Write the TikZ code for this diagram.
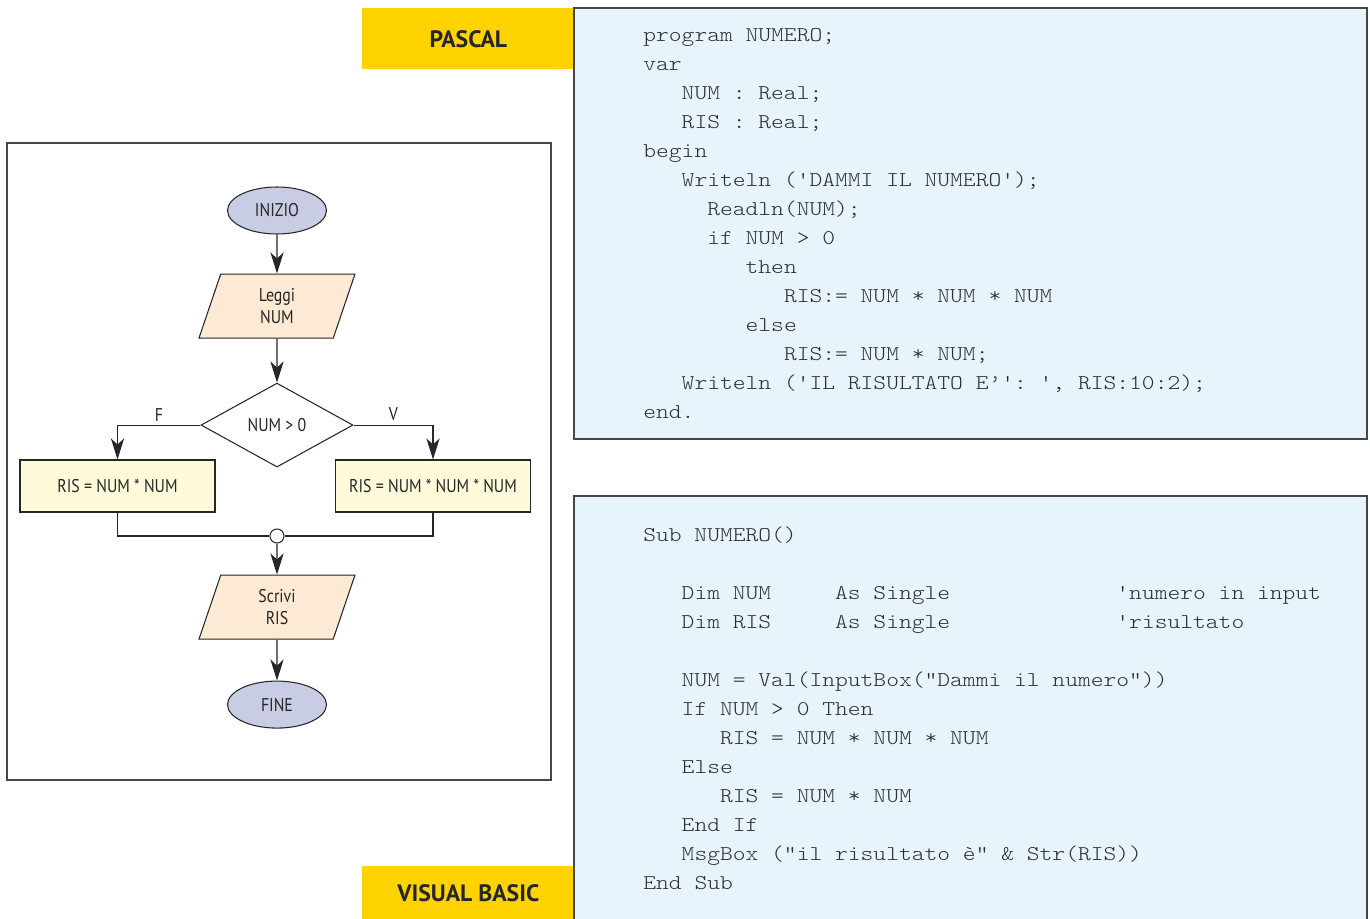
\documentclass[tikz,border=0pt]{standalone}
\usepackage{fontspec}
\setmainfont{PT Sans}[FakeStretch=0.86]
\setmonofont{lmmonolt10-regular.otf}[FakeStretch=1.16]
\newfontfamily\tabfont{PT Sans}
\usetikzlibrary{shapes.geometric, arrows.meta, positioning}
\definecolor{termcol}{RGB}{200,205,228}
\definecolor{iocol}{RGB}{253,234,212}
\definecolor{proccol}{RGB}{255,251,218}
\definecolor{codebg}{RGB}{232,244,252}
\definecolor{tabcol}{RGB}{255,211,0}
\definecolor{framecol}{RGB}{70,70,70}
\definecolor{codetext}{RGB}{45,45,45}
\newcommand{\tb}[1]{\hspace*{#1\fontdimen2\font}}

\tikzset{
	flow/.style={draw=black!85, line width=0.6pt, text=black!85, font=\fontsize{10.5}{13}\selectfont},
	terminal/.style={flow, ellipse, fill=termcol, minimum width=1.98cm, minimum height=0.94cm, inner sep=0pt},
	iobox/.style={flow, trapezium, trapezium left angle=59, trapezium right angle=121, trapezium stretches body, fill=iocol, minimum width=3.12cm, minimum height=1.28cm, inner sep=0pt, align=center},
	decision/.style={flow, diamond, aspect=1.8, fill=white, minimum width=3.04cm, minimum height=1.68cm, inner sep=0pt},
	procbox/.style={flow, rectangle, fill=proccol, minimum width=3.9cm, minimum height=1.04cm},
	junction/.style={flow, circle, fill=white, minimum size=0.28cm, inner sep=0pt},
	arrow/.style={draw=black!85, line width=0.6pt, -{Stealth[length=12pt, width=7.5pt, inset=3.5pt]}},
	connector/.style={draw=black!85, line width=0.6pt},
	tabbox/.style={fill=tabcol, text=black!85, font=\tabfont\bfseries\fontsize{13.5}{16}\selectfont, inner sep=0pt, anchor=north west},
	codebox/.style={fill=codebg, draw=framecol, line width=0.6pt},
	codetxt/.style={text=codetext, font=\ttfamily\fontsize{11.95}{16.5}\selectfont, align=left, inner sep=0pt, anchor=north west}
}

\begin{document}
\begin{tikzpicture}[x=0.02cm, y=-0.02cm]
	\useasboundingbox (0,0) rectangle (1370,919);
	\fill[white] (0,0) rectangle (1370,919);

	%----------------------------------------------------------------
	\node(pascaltab) [tabbox, minimum width=4.24cm, minimum height=1.22cm] at (362,8) {PASCAL};
	\node(vbtab) [tabbox, minimum width=4.24cm, minimum height=1.06cm] at (362,866) {VISUAL BASIC};

	\draw [codebox] (574,8) rectangle (1367,439);
	\fill [codebg] (574,496) rectangle (1367,919);
	\draw [framecol, line width=0.6pt] (574,919) -- (574,496) -- (1367,496) -- (1367,919);

	%----------------------------------------------------------------
	\node(pascalcode) [codetxt] at (643,28.5) {program NUMERO;\\
		var\\
		\tb{3}NUM : Real;\\
		\tb{3}RIS : Real;\\
		begin\\
		\tb{3}Writeln ('DAMMI IL NUMERO');\\
		\tb{5}Readln(NUM);\\
		\tb{5}if NUM > 0\\
		\tb{8}then\\
		\tb{11}RIS:= NUM * NUM * NUM\\
		\tb{8}else\\
		\tb{11}RIS:= NUM * NUM;\\
		\tb{3}Writeln ('IL RISULTATO E’': ', RIS:10:2);\\
		end.
	};

	\node(vbcode) [codetxt] at (643,527) {Sub NUMERO()\\[16.5pt]
		\tb{3}Dim NUM\tb{5}As Single\tb{13}'numero in input\\
		\tb{3}Dim RIS\tb{5}As Single\tb{13}'risultato\\[16.5pt]
		\tb{3}NUM = Val(InputBox("Dammi il numero"))\\
		\tb{3}If NUM > 0 Then\\
		\tb{6}RIS = NUM * NUM * NUM\\
		\tb{3}Else\\
		\tb{6}RIS = NUM * NUM\\
		\tb{3}End If\\
		\tb{3}MsgBox ("il risultato è" \& Str(RIS))\\
		End Sub
	};

	%----------------------------------------------------------------
	\draw [framecol, line width=0.6pt] (7,143) rectangle (551,780);

	\node(inizio) [terminal] at (277,210.5) {INIZIO};
	\node(leggi) [iobox, below=0.78cm of inizio] {Leggi\\NUM};
	\node(test) [decision, below=0.88cm of leggi] {NUM > 0};
	\node(quadrato) [procbox] at (117.5,486) {RIS = NUM * NUM};
	\node(cubo) [procbox] at (433,486) {RIS = NUM * NUM * NUM};
	\node(merge) [junction] at (277,536) {};
	\node(scrivi) [iobox, below=0.62cm of merge] {Scrivi\\RIS};
	\node(fine) [terminal, below=0.82cm of scrivi] {FINE};

	\draw [arrow] (inizio) -- (leggi);
	\draw [arrow] (leggi) -- (test);
	\draw [arrow] (test.west) -| (quadrato) node[pos=0.25, above, flow, draw=none, inner sep=2pt] {F};
	\draw [arrow] (test.east) -| (cubo) node[pos=0.25, above, flow, draw=none, inner sep=2pt] {V};
	\draw [connector] (quadrato) |- (merge);
	\draw [connector] (cubo) |- (merge);
	\draw [arrow] (merge) -- (scrivi);
	\draw [arrow] (scrivi) -- (fine);
\end{tikzpicture}
\end{document}
